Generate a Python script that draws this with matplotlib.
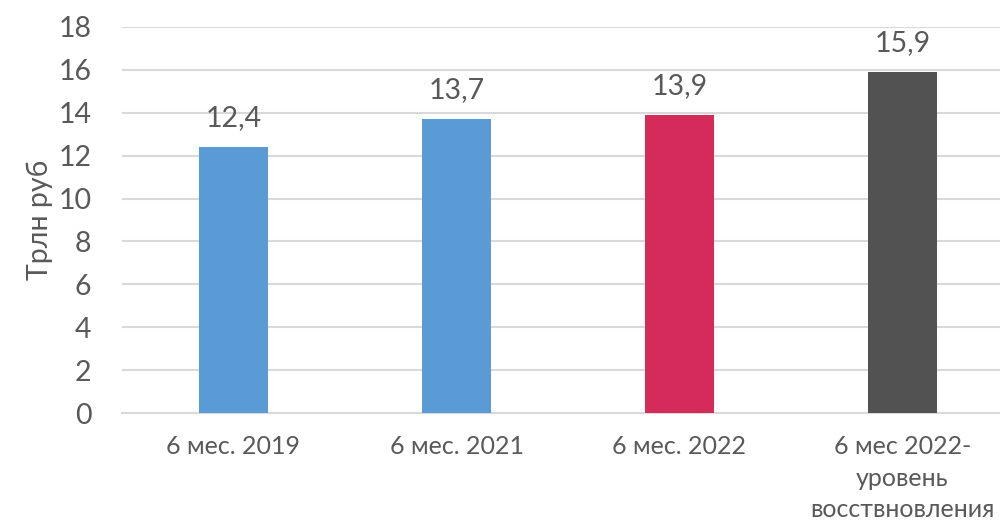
import numpy as np
import matplotlib.pyplot as plt

categories = ["6 мес. 2019", "6 мес. 2021", "6 мес. 2022", "6 мес 2022-\nуровень\nвосствновления"]
values = [12.4, 13.7, 13.9, 15.9]
labels = ["12,4", "13,7", "13,9", "15,9"]
colors = ["#5B9BD5", "#5B9BD5", "#D52B5B", "#525252"]
yticks = [0, 2, 4, 6, 8, 10, 12, 14, 16, 18]

plt.rcParams['font.family'] = ['Lato', 'DejaVu Sans']
text_color = "#595959"

fig = plt.figure(figsize=(10, 5.22), dpi=100)
ax = fig.add_axes([0.122, 0.2088, 0.892, 0.7395])

x = np.arange(len(categories))
ax.bar(x, values, width=0.31, color=colors, zorder=3)
for xi, v, lab in zip(x, values, labels):
    ax.text(xi, v + 0.75, lab, ha="center", va="bottom", fontsize=20.5, color=text_color)

ax.set_xlim(-0.5, len(categories) - 0.5)
ax.set_ylim(0, 18)
ax.set_yticks(yticks)
ax.set_yticklabels([str(t) for t in yticks], fontsize=20.5, color=text_color)
ax.set_xticks(x)
ax.set_xticklabels(categories, fontsize=18, color=text_color, linespacing=1.45, va="top")
ax.tick_params(axis="both", length=0)
ax.tick_params(axis="y", pad=22)
ax.tick_params(axis="x", pad=16)
ax.set_ylabel("Трлн руб", fontsize=20.5, color=text_color, labelpad=4)

ax.grid(axis="y", color="#D9D9D9", linewidth=1.5, zorder=0)
for s in ["top", "right", "left"]:
    ax.spines[s].set_visible(False)
ax.spines["bottom"].set_color("#D9D9D9")
ax.spines["bottom"].set_linewidth(1.5)

fig.savefig("out.png", dpi=100)
